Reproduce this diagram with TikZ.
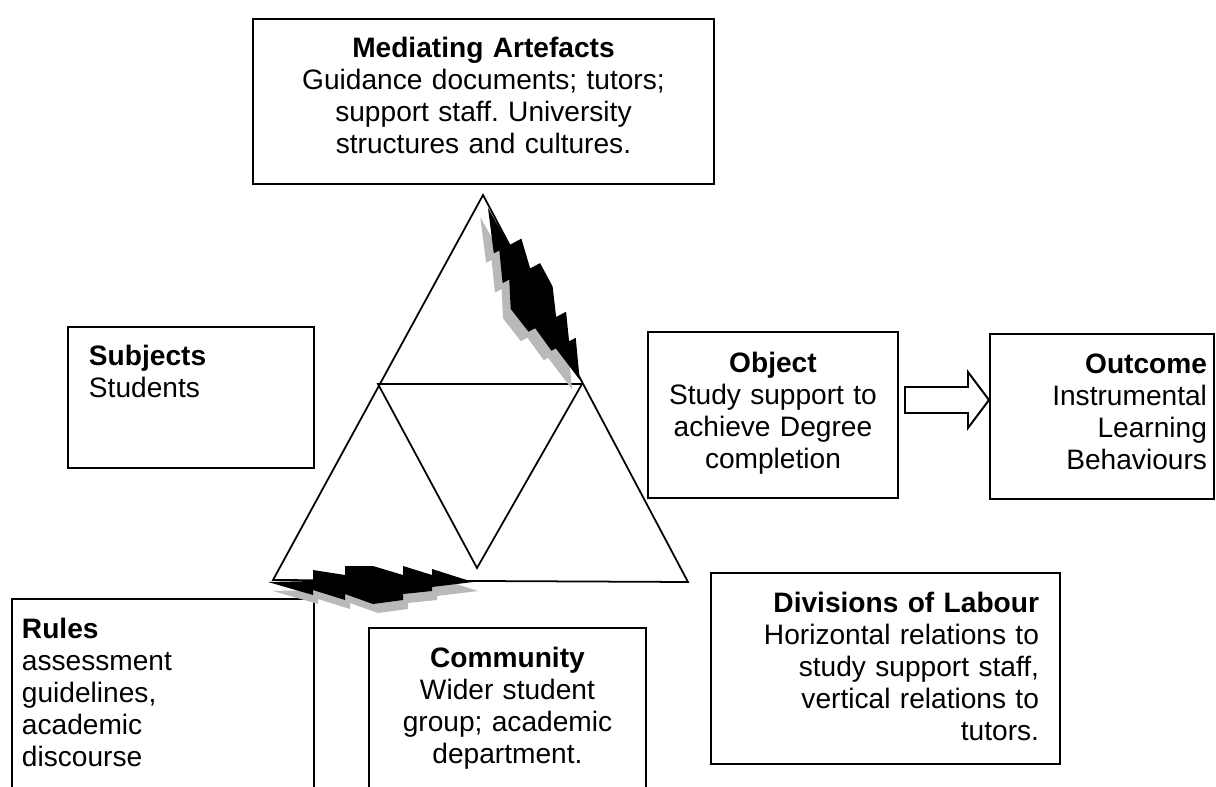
\documentclass[tikz,border=0pt]{standalone}
\usepackage{fontspec}
\setmainfont{Liberation Sans}
\usepackage{tikz}
\frenchspacing

\newlength{\unitpx}
\setlength{\unitpx}{0.02cm}
\newcommand{\boltoutline}{(0,0) -- (45,-1) -- (45,-12) -- (77,-7) -- (77,-16) -- (105,-16) -- (135,-7) -- (135,-16) -- (164,-7) -- (164,-13) -- (205,0) -- (164,5) -- (164,9) -- (135,12) -- (135,18) -- (105,22) -- (77,12) -- (77,18) -- (45,8) -- (45,13) -- cycle}
\tikzset{
	bolt/.pic={
		\fill[gray!55, shift={(5,9)}] \boltoutline;
		\fill[black] \boltoutline;
	}
}

\begin{document}
\begin{tikzpicture}[x=0.02cm, y=-0.02cm, line width=1pt,
	box/.style={draw, line width=1.1pt, anchor=north west, inner ysep=0pt, font=\fontsize{16}{18.2}\selectfont},
	hollow/.style={draw, line width=1.1pt, fill=white}]
	
	\useasboundingbox (0,0) rectangle (1216,787);
	\clip (0,0) rectangle (1216,787);
	
	% Draw rectangles
	\node (med) [box, inner xsep=0pt, text width=461\unitpx, text height=39\unitpx, text depth=126\unitpx, align=center] at (252,18) {\textbf{Mediating Artefacts}\\Guidance documents; tutors;\\support staff. University\\structures and cultures.};
	\node (subj) [box, inner xsep=21\unitpx, text width=204\unitpx, text height=39\unitpx, text depth=102\unitpx, align=left] at (67,326) {\textbf{Subjects}\\Students};
	\node (obj) [box, inner xsep=0pt, text width=250\unitpx, text height=41\unitpx, text depth=125\unitpx, align=center] at (647,331) {\textbf{Object}\\Study support to\\achieve Degree\\completion};
	\node (outc) [box, inner xsep=7\unitpx, text width=210\unitpx, text height=40\unitpx, text depth=125\unitpx, align=right] at (989,333) {\textbf{Outcome}\\Instrumental\\Learning\\Behaviours};
	\node (div) [box, inner xsep=21\unitpx, text width=307\unitpx, text height=40\unitpx, text depth=151\unitpx, align=right] at (710,572) {\textbf{Divisions of Labour}\\Horizontal relations to\\study support staff,\\vertical relations to\\tutors.};
	\node (rules) [box, inner xsep=10\unitpx, text width=282\unitpx, text height=40\unitpx, text depth=220\unitpx, align=left] at (11,598) {\textbf{Rules}\\assessment\\guidelines,\\academic\\discourse};
	\node (comm) [box, inner xsep=0pt, text width=277\unitpx, text height=40\unitpx, text depth=200\unitpx, align=center] at (368,627) {\textbf{Community}\\Wider student\\group; academic\\department.};
	
	% Draw triangles
	\coordinate (apex) at (483,195);
	\coordinate (baseL) at (273,580);
	\coordinate (baseR) at (688,582);
	\coordinate (midL) at (378,384);
	\coordinate (midR) at (582,384);
	\coordinate (midB) at (477,568);
	\draw (apex) -- (baseR) -- (baseL) -- cycle;
	\draw (midL) -- (midR) -- (midB) -- cycle;
	
	% Draw bolts
	\pic at (268,582) {bolt};
	\pic[rotate=-61.9, xscale=0.95, yscale=1.25] at (488,208) {bolt};
	
	% Draw arrow
	\coordinate (flowstart) at (905,400);
	\coordinate (flowtip) at (outc.west |- flowstart);
	\draw[hollow] (flowstart) ++(0,-13) -- ++(63,0) -- ++(0,-15) -- (flowtip) -- ++(-21,28) -- ++(0,-15) -- ++(-63,0) -- cycle;
	
\end{tikzpicture}
\end{document}
